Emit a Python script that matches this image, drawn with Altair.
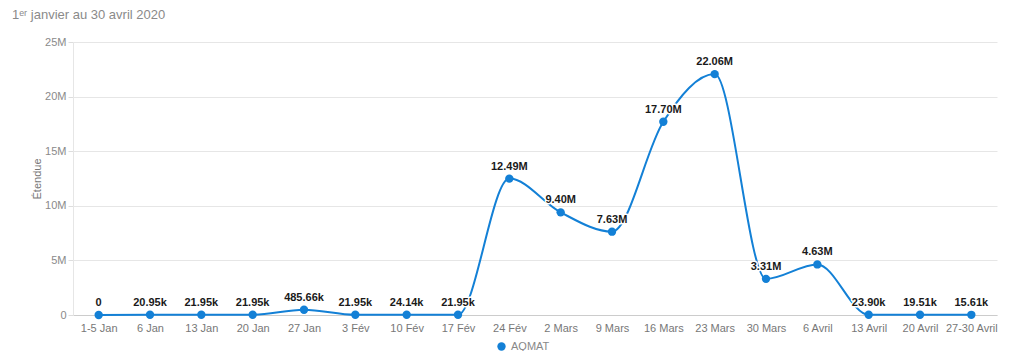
import altair as alt
import pandas as pd

categories = ["1-5 Jan", "6 Jan", "13 Jan", "20 Jan", "27 Jan", "3 Fév", "10 Fév", "17 Fév",
              "24 Fév", "2 Mars", "9 Mars", "16 Mars", "23 Mars", "30 Mars", "6 Avril",
              "13 Avril", "20 Avril", "27-30 Avril"]
values = [0, 20950, 21950, 21950, 485660, 21950, 24140, 21950,
          12490000, 9400000, 7630000, 17700000, 22060000, 3310000, 4630000,
          23900, 19510, 15610]
labels = ["0", "20.95k", "21.95k", "21.95k", "485.66k", "21.95k", "24.14k", "21.95k",
          "12.49M", "9.40M", "7.63M", "17.70M", "22.06M", "3.31M", "4.63M",
          "23.90k", "19.51k", "15.61k"]
series = ["AQMAT"] * len(categories)

df = pd.DataFrame({"cat": categories, "val": values, "lab": labels, "series": series})

FONT = "Liberation Sans"
BLUE = "#1380d6"

x = alt.X("cat:N", sort=categories, title=None,
          scale=alt.Scale(type="point", padding=0.5),
          axis=alt.Axis(labelAngle=0, ticks=False, labelPadding=7, labelFontSize=11,
                        labelColor="#777777", domainColor="#cccccc", labelFont=FONT))
y = alt.Y("val:Q", title="Étendue",
          scale=alt.Scale(domain=[0, 25000000], nice=False),
          axis=alt.Axis(values=[0, 5000000, 10000000, 15000000, 20000000, 25000000],
                        labelExpr="datum.value == 0 ? '0' : (datum.value / 1000000) + 'M'",
                        labelFontSize=11, labelColor="#8a8a8a", labelFont=FONT,
                        tickColor="#dddddd", tickSize=5, labelPadding=2,
                        domainColor="#e6e6e6", gridColor="#e6e6e6",
                        titleFontSize=11, titleFontWeight="normal", titleColor="#777777",
                        titleFont=FONT, titleX=-31))

base = alt.Chart(df)

line = base.mark_line(interpolate="monotone", strokeWidth=2).encode(
    x=x, y=y,
    color=alt.Color("series:N", scale=alt.Scale(range=[BLUE]),
                    legend=alt.Legend(title=None, orient="none", legendX=423, legendY=299,
                                      symbolType="circle", symbolSize=70,
                                      labelFontSize=11, labelColor="#888888",
                                      labelFont=FONT, symbolStrokeWidth=0)))
pts = base.mark_point(filled=True, size=70, opacity=1).encode(
    x=x, y=y, color=alt.Color("series:N", legend=None))
halo = base.mark_text(dy=-12, fontSize=11, fontWeight="bold", font=FONT,
                      stroke="white", strokeWidth=3, strokeJoin="round").encode(
    x=x, y=y, text="lab:N")
txt = base.mark_text(dy=-12, fontSize=11, fontWeight="bold", font=FONT,
                     color="#1a1a1a").encode(x=x, y=y, text="lab:N")

chart = alt.layer(line, pts, halo, txt).properties(
    width=924, height=273,
    autosize=alt.AutoSizeParams(type="none"),
    padding={"left": 65, "top": 34, "right": 19, "bottom": 36},
    title=alt.TitleParams("1ᵉʳ janvier au 30 avril 2020", anchor="start", frame="group",
                          dx=-61, offset=14, fontSize=13, fontWeight="normal",
                          color="#8a8a8a", font=FONT)
).configure_view(stroke=None)

chart.save("out.html", embed_options={"renderer": "svg", "actions": False})
